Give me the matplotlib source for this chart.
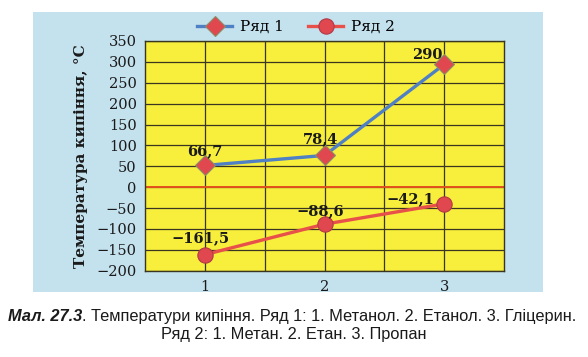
import numpy as np
import matplotlib
matplotlib.use('Agg')
import matplotlib.pyplot as plt
from matplotlib.patches import Rectangle
from matplotlib.lines import Line2D

# ============================================================
# Data
# ============================================================
categories = [1, 2, 3]
series_names = ['Ряд 1', 'Ряд 2']
row1_values = [52, 76, 294]          # plotted positions
row2_values = [-161.5, -88.6, -40]
row1_labels = ['66,7', '78,4', '290']
row2_labels = ['\u2212161,5', '\u221288,6', '\u221242,1']
y_ticks = [350, 300, 250, 200, 150, 100, 50, 0, -50, -100, -150, -200]
y_label = 'Температура кипіння, °С'
caption_bold = 'Мал. 27.3'
caption_line1 = '. Температури кипіння. Ряд 1: 1. Метанол. 2. Етанол. 3. Гліцерин.'
caption_line2 = 'Ряд 2: 1. Метан. 2. Етан. 3. Пропан'

# ============================================================
# Style
# ============================================================
SERIF = ['DejaVu Serif']
SANS = ['Liberation Sans', 'DejaVu Sans']
C = {
    'panel':  '#c4e1ee',
    'yellow': '#f7ef3c',
    'grid':   '#3a3520',
    'zero':   '#e4501c',
    'blue':   '#4f7fc4',
    'red':    '#e8504a',
    'marker': '#e0474f',
    'text':   '#1a1a1a',
}

fig = plt.figure(figsize=(5.88, 3.57), dpi=100)
fig.patch.set_facecolor('white')

# light-blue backdrop panel
fig.patches.append(Rectangle((33 / 588, 1 - 292 / 357), (543 - 33) / 588, (292 - 12) / 357,
                             transform=fig.transFigure, facecolor=C['panel'],
                             edgecolor='none', zorder=-10))

ax = fig.add_axes([145 / 588, 1 - 270.7 / 357, (504 - 145) / 588, (270.7 - 41) / 357])
ax.set_facecolor(C['yellow'])
ax.set_xlim(0.5, 3.5)
ax.set_ylim(-200, 350)

ax.set_yticks(y_ticks)
ax.set_yticklabels([str(v).replace('-', '\u2212') for v in y_ticks],
                   fontfamily=SERIF, fontsize=10.5)
ax.set_xticks(categories)
ax.set_xticklabels([str(c) for c in categories], fontfamily=SERIF, fontsize=10.5)
ax.set_xticks([1.5, 2.5], minor=True)
ax.tick_params(which='both', length=0, pad=6, colors=C['text'])
ax.tick_params(axis='x', pad=7)

ax.grid(True, which='both', color=C['grid'], lw=0.9)
ax.set_axisbelow(True)
for s in ax.spines.values():
    s.set_color(C['grid'])
    s.set_linewidth(1.0)

ax.axhline(0, color=C['zero'], lw=1.4, zorder=2)

ax.plot(categories, row1_values, color=C['blue'], lw=2.4, zorder=3,
        marker='D', ms=10, mfc=C['marker'], mec='#8a8f6a', mew=0.8)
ax.plot(categories, row2_values, color=C['red'], lw=2.4, zorder=3,
        marker='o', ms=11, mfc=C['marker'], mec='#b03a45', mew=0.8)

# value labels
offs1 = [(0, 5), (-3, 7), (-12, 1.5)]
offs2 = [(-3, 7), (-3, 4), (-24, -1.5)]
for x, y, t, o in zip(categories, row1_values, row1_labels, offs1):
    ax.annotate(t, (x, y), xytext=o, textcoords='offset points', ha='center',
                va='bottom', fontfamily=SERIF, fontweight='bold', fontsize=10.5,
                color=C['text'])
for x, y, t, o in zip(categories, row2_values, row2_labels, offs2):
    ax.annotate(t, (x, y), xytext=o, textcoords='offset points', ha='center',
                va='bottom', fontfamily=SERIF, fontweight='bold', fontsize=10.5,
                color=C['text'])

ax.set_ylabel(y_label, fontfamily=SERIF, fontweight='bold', fontsize=11,
              labelpad=6, color=C['text'])

# legend
handles = [
    Line2D([], [], color=C['blue'], lw=2.4, marker='D', ms=10,
           mfc=C['marker'], mec='#8a8f6a', mew=0.8),
    Line2D([], [], color=C['red'], lw=2.4, marker='o', ms=11,
           mfc=C['marker'], mec='#b03a45', mew=0.8),
]
fig.legend(handles, series_names, loc='center', bbox_to_anchor=(296 / 588, 1 - 27 / 357),
           ncol=2, frameon=False, handlelength=2.3, columnspacing=1.6,
           handletextpad=0.5, prop={'family': SERIF, 'size': 11})

# caption
t1 = fig.text(8 / 588, 1 - 321 / 357, caption_bold, fontfamily=SANS,
              fontweight='bold', fontstyle='italic', fontsize=11.8,
              ha='left', va='baseline', color=C['text'])
ax.annotate(caption_line1, xy=(1, 0), xycoords=t1, ha='left', va='bottom',
            fontfamily=SANS, fontsize=11.8, color=C['text'], annotation_clip=False)
fig.text(0.5, 1 - 339 / 357, caption_line2, fontfamily=SANS, fontsize=11.8,
         ha='center', va='baseline', color=C['text'])

fig.savefig('out.png', dpi=100)
